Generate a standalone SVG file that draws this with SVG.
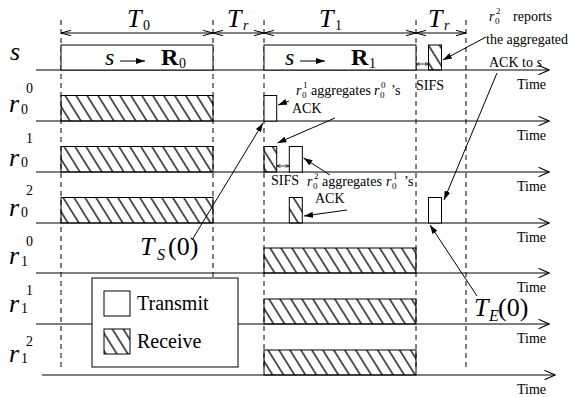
<svg xmlns="http://www.w3.org/2000/svg" width="576" height="397" viewBox="0 0 576 397">
<style>
text{font-family:"Liberation Serif","Times New Roman",serif;fill:#000}
.it{font-style:italic}
.big{font-size:26px}
.sub{font-size:14px}
.ann{font-size:14px}
.tiny{font-size:9px}
.leg{font-size:20px}
.dash{stroke:#000;stroke-width:1;stroke-dasharray:5,4;fill:none}
.tl{stroke:#000;stroke-width:1.2;fill:none;marker-end:url(#timeHead)}
.box{fill:#fff;stroke:#000;stroke-width:1}
.hb{fill:url(#hatch);stroke:#000;stroke-width:1}
.dim{stroke:#000;stroke-width:1;fill:none;marker-start:url(#dimHead);marker-end:url(#dimHead)}
.sifs{stroke:#000;stroke-width:0.8;fill:none;marker-start:url(#tinyHead);marker-end:url(#tinyHead)}
.ptr{stroke:#000;stroke-width:1;fill:none;marker-end:url(#fillHead)}
</style>
<defs>
<pattern id="hatch" width="9.3" height="10" patternUnits="userSpaceOnUse" patternTransform="rotate(-32)">
<line x1="4.6" y1="-1" x2="4.6" y2="11" stroke="#000" stroke-width="1.3"/>
</pattern>
<marker id="timeHead" viewBox="0 0 12 10" refX="11" refY="5" markerWidth="12" markerHeight="10" markerUnits="userSpaceOnUse" orient="auto">
<path d="M0.5,0.3 L11,5 L0.5,9.7" fill="none" stroke="#000" stroke-width="1.1"/>
</marker>
<marker id="dimHead" viewBox="0 0 11 6" refX="10.5" refY="3" markerWidth="11" markerHeight="6" markerUnits="userSpaceOnUse" orient="auto-start-reverse">
<path d="M0.5,0.3 L10.5,3 L0.5,5.7" fill="none" stroke="#000" stroke-width="1"/>
</marker>
<marker id="tinyHead" viewBox="0 0 4 4" refX="3.8" refY="2" markerWidth="4" markerHeight="4" markerUnits="userSpaceOnUse" orient="auto-start-reverse">
<path d="M0.3,0.4 L3.8,2 L0.3,3.6" fill="none" stroke="#000" stroke-width="0.7"/>
</marker>
<marker id="fillHead" viewBox="0 0 9 6" refX="9" refY="3" markerWidth="9" markerHeight="6" markerUnits="userSpaceOnUse" orient="auto">
<path d="M0,0 L9,3 L0,6 Z" fill="#000"/>
</marker>
</defs>

<g id="grid">
<line class="dash" x1="61" y1="20" x2="61" y2="370"/>
<line class="dash" x1="213" y1="20" x2="213" y2="370"/>
<line class="dash" x1="264" y1="20" x2="264" y2="370"/>
<line class="dash" x1="416" y1="20" x2="416" y2="370"/>
<line class="dash" x1="466" y1="20" x2="466" y2="370"/>
</g>

<g id="durations">
<line class="dim" x1="61" y1="33" x2="213" y2="33"/>
<line class="dim" x1="213" y1="33" x2="264" y2="33"/>
<line class="dim" x1="264" y1="33" x2="416" y2="33"/>
<line class="dim" x1="416" y1="33" x2="466" y2="33"/>
<text class="it big" x="127" y="27">T</text><text class="sub" x="143" y="30">0</text>
<text class="it big" x="227" y="27">T</text><text class="it sub" x="243" y="30">r</text>
<text class="it big" x="319" y="27">T</text><text class="sub" x="335" y="30">1</text>
<text class="it big" x="428" y="27">T</text><text class="it sub" x="444" y="30">r</text>
</g>

<g id="timelines">
<line class="tl" x1="36" y1="70" x2="549" y2="70"/>
<line class="tl" x1="36" y1="121" x2="549" y2="121"/>
<line class="tl" x1="36" y1="172" x2="549" y2="172"/>
<line class="tl" x1="36" y1="223" x2="549" y2="223"/>
<line class="tl" x1="36" y1="273" x2="549" y2="273"/>
<line class="tl" x1="36" y1="324" x2="549" y2="324"/>
<line class="tl" x1="42" y1="375" x2="555" y2="375"/>
<text class="ann" x="517" y="89">Time</text>
<text class="ann" x="517" y="140">Time</text>
<text class="ann" x="517" y="191">Time</text>
<text class="ann" x="517" y="242">Time</text>
<text class="ann" x="517" y="292">Time</text>
<text class="ann" x="517" y="343">Time</text>
<text class="ann" x="517" y="394">Time</text>
</g>

<g id="row-labels">
<text class="it big" x="10" y="60">s</text>
<text class="it big" x="9" y="112">r</text><text class="sub" x="21" y="114">0</text><text class="sub" x="26" y="93">0</text>
<text class="it big" x="9" y="166">r</text><text class="sub" x="21" y="167">0</text><text class="sub" x="26" y="143">1</text>
<text class="it big" x="9" y="216">r</text><text class="sub" x="21" y="217">0</text><text class="sub" x="26" y="195">2</text>
<text class="it big" x="9" y="264">r</text><text class="sub" x="21" y="266">1</text><text class="sub" x="26" y="246">0</text>
<text class="it big" x="9" y="312">r</text><text class="sub" x="21" y="313">1</text><text class="sub" x="26" y="295">1</text>
<text class="it big" x="9" y="362">r</text><text class="sub" x="21" y="363">1</text><text class="sub" x="26" y="346">2</text>
</g>

<g id="s-R0">
<rect class="box" x="61" y="45" width="152" height="25" fill="none"/>
<text class="it" font-size="24" x="105" y="65">s</text>
<line class="ptr" x1="120" y1="61" x2="145" y2="61"/>
<text font-size="24" font-weight="bold" x="161" y="65">R</text><text class="sub" x="179" y="68">0</text>
</g>
<g id="s-R1">
<rect class="box" x="264" y="45" width="152" height="25"/>
<text class="it" font-size="24" x="285" y="65">s</text>
<line class="ptr" x1="300" y1="61" x2="325" y2="61"/>
<text font-size="24" font-weight="bold" x="351" y="65">R</text><text class="sub" x="369" y="68">1</text>
</g>
<g id="s-ack">
<rect class="hb" x="428.5" y="45" width="13" height="25"/>
</g>

<g id="r00-rx"><rect class="hb" x="61" y="95.5" width="152" height="25.5"/></g>
<g id="r00-tx"><rect class="box" x="264" y="95.5" width="12.7" height="25.5"/></g>
<g id="r01-rx"><rect class="hb" x="61" y="146.5" width="152" height="25.5"/></g>
<g id="r01-rx2"><rect class="hb" x="264" y="146.5" width="12.7" height="25.5"/></g>
<g id="r01-tx"><rect class="box" x="289.3" y="146.5" width="13" height="25.5"/></g>
<g id="r02-rx"><rect class="hb" x="61" y="197.5" width="152" height="25.5"/></g>
<g id="r02-rx2"><rect class="hb" x="289.3" y="197.5" width="13" height="25.5"/></g>
<g id="r02-tx"><rect class="box" x="428.5" y="197.5" width="13" height="25.5"/></g>
<g id="r10-rx"><rect class="hb" x="264" y="248" width="152" height="25"/></g>
<g id="r11-rx"><rect class="hb" x="264" y="299" width="152" height="25"/></g>
<g id="r12-rx"><rect class="hb" x="264" y="350" width="152" height="25"/></g>

<g id="legend">
<rect class="box" x="92" y="278" width="146" height="89"/>
<rect class="box" x="104" y="291" width="26" height="25"/>
<text class="leg" x="137" y="310">Transmit</text>
<rect class="hb" x="104" y="329" width="26" height="25"/>
<text class="leg" x="137" y="348">Receive</text>
</g>

<g id="annotations">
<text class="ann it" x="296" y="95">r</text><text class="tiny" x="302" y="98">0</text><text class="tiny" x="303" y="88">1</text>
<text class="ann" x="311" y="95">aggregates</text>
<text class="ann it" x="374" y="95">r</text><text class="tiny" x="380" y="98">0</text><text class="tiny" x="381" y="88">0</text>
<text class="ann" x="391" y="95">’s</text>
<text class="ann" x="292" y="113">ACK</text>
<text class="ann" x="271" y="185">SIFS</text>
<text class="ann it" x="307" y="186">r</text><text class="tiny" x="313" y="189">0</text><text class="tiny" x="314" y="179">2</text>
<text class="ann" x="322" y="186">aggregates</text>
<text class="ann it" x="386" y="186">r</text><text class="tiny" x="392" y="189">0</text><text class="tiny" x="393" y="179">1</text>
<text class="ann" x="404" y="186">’s</text>
<text class="ann" x="315" y="203">ACK</text>
<text class="ann" x="416" y="90">SIFS</text>
<text class="ann it" x="489" y="21">r</text><text class="tiny" x="495" y="24">0</text><text class="tiny" x="496" y="14">2</text>
<text class="ann" x="513" y="21">reports</text>
<text class="ann" x="486" y="44">the aggregated</text>
<text class="ann" x="489" y="67">ACK to <tspan class="it">s</tspan></text>
<text class="it big" x="140" y="255">T</text><text class="it" font-size="16" x="157" y="260">S</text><text class="big" x="168" y="255">(0)</text>
<text class="it big" x="474" y="316">T</text><text class="it" font-size="16" x="489" y="321">E</text><text class="big" x="498" y="316">(0)</text>
</g>

<g id="connectors">
<line class="sifs" x1="277" y1="166" x2="289" y2="166"/>
<line class="sifs" x1="416" y1="64" x2="428.5" y2="64"/>
<line class="ptr" x1="289" y1="101" x2="278" y2="105"/>
<line class="ptr" x1="335" y1="118" x2="277.5" y2="143"/>
<line class="ptr" x1="330" y1="175" x2="303.5" y2="158"/>
<line class="ptr" x1="347" y1="210" x2="304" y2="216"/>
<line class="ptr" x1="486" y1="37" x2="443" y2="60"/>
<line class="ptr" x1="497" y1="73" x2="444" y2="200"/>
<line class="ptr" x1="192" y1="240" x2="263" y2="123"/>
<line class="ptr" x1="477" y1="296" x2="430" y2="225"/>
</g>
</svg>
